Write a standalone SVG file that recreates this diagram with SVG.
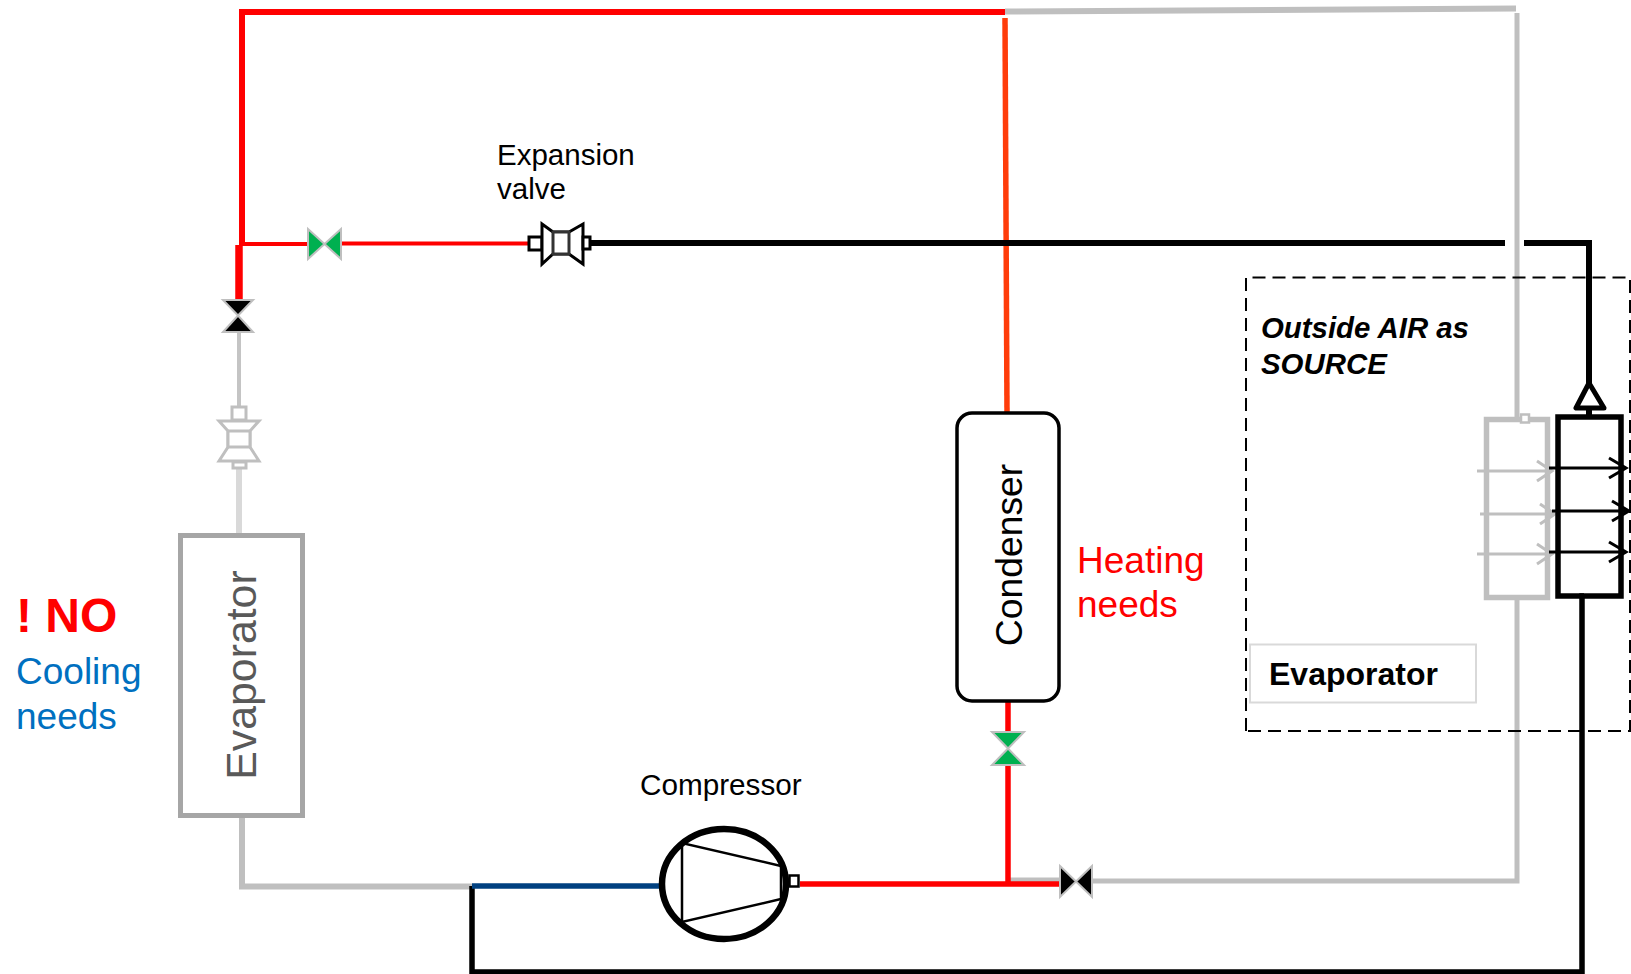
<svg xmlns="http://www.w3.org/2000/svg" width="1631" height="974" viewBox="0 0 1631 974">
<style>
text{font-family:"Liberation Sans",Arial,sans-serif}
.p{fill:none;stroke-linejoin:miter}
.gr{stroke:#bfbfbf}.rd{stroke:#f00}.bk{stroke:#000}
.vg{fill:#00b050;stroke:#bfbfbf;stroke-width:2}
.vk{fill:#000;stroke:#bfbfbf;stroke-width:2}
.ag{fill:none;stroke:#bfbfbf;stroke-width:3}
.ak{fill:none;stroke:#000;stroke-width:3}
</style>
<rect width="1631" height="974" fill="#fff"/>
<g id="connectors">
<path class="p gr" stroke-width="6" d="M1005 11.500L1516 8.500"/>
<path class="p gr" stroke-width="5" d="M1517 13V418M1517 598V881H1092M1062 880H1010"/>
<path class="p gr" stroke-width="6" d="M242 815V886.500H472"/>
<path class="p" stroke="#c4c4c4" stroke-width="4" d="M239 332V406"/>
<path class="p" stroke="#d9d9d9" stroke-width="6" d="M239 468V535"/>
<path class="p rd" stroke-width="6" d="M1005 12H242V245"/>
<path class="p rd" stroke-width="7.500" d="M239 245V304"/>
<path class="p rd" stroke-width="4" d="M241 244H308M341 243.500H528"/>
<path class="p" stroke="#ff3c0a" stroke-width="5.500" d="M1005 18L1007 412"/>
<path class="p rd" stroke-width="5.500" d="M1008 701V732M1008 765V884M800 884H1062"/>
<path class="p bk" stroke-width="6" d="M590 243H1505M1524 243H1589V384M1589 408V417"/>
<path class="p bk" stroke-width="5.500" d="M1584 596H1582V972H472V886"/>
<path class="p" stroke="#004080" stroke-width="5.500" d="M472 886H661"/>
</g>
<g id="valve-green-h"><path class="vg" d="M308 229L324.500 244L308 259ZM341 229L324.500 244L341 259Z"/></g>
<g id="valve-black-v"><path class="vk" d="M223 300H253L238 315.500ZM223 332H253L238 315.500Z"/></g>
<g id="valve-green-v"><path class="vg" d="M992 732H1024L1008 748.500ZM992 765H1024L1008 748.500Z"/></g>
<g id="valve-black-h"><path class="vk" d="M1060 866L1076 881.500L1060 897ZM1092 866L1076 881.500L1092 897Z"/></g>
<g id="expansion-valve-black" fill="#fff" stroke="#000" stroke-width="3">
<rect x="529" y="237" width="13" height="13"/>
<path d="M542 224L553 232H569L583 224V264L569 254H553L542 264Z"/>
<rect x="553" y="232" width="16" height="22" stroke="#333"/>
<rect x="583" y="237" width="7" height="12"/>
</g>
<g id="expansion-valve-gray" fill="#fff" stroke="#bfbfbf" stroke-width="3">
<rect x="232" y="407" width="14" height="13"/>
<path d="M219 421H259L250 431V447L259 461H219L228 447V431Z"/>
<rect x="228" y="431" width="22" height="16"/>
<rect x="233" y="462" width="13" height="6"/>
</g>
<g id="evaporator-left">
<rect x="180.500" y="535.500" width="122" height="280" fill="#fff" stroke="#a6a6a6" stroke-width="5"/>
<text transform="translate(256 675) rotate(-90)" text-anchor="middle" font-size="42.800" fill="#595959">Evaporator</text>
</g>
<g id="condenser">
<rect x="957" y="413" width="102" height="288" rx="15" fill="#fff" stroke="#000" stroke-width="3.500"/>
<text transform="translate(1022 555) rotate(-90)" text-anchor="middle" font-size="37.300" fill="#000">Condenser</text>
</g>
<g id="compressor" fill="none" stroke="#000">
<ellipse cx="724" cy="884" rx="62" ry="55" fill="#fff" stroke-width="6.500"/>
<path stroke-width="2.500" d="M682 843V922L781 899V866Z"/>
<rect x="789.500" y="875.500" width="9" height="11" fill="#fff" stroke-width="2.500"/>
</g>
<g id="source-box">
<path fill="none" stroke="#000" stroke-width="2" stroke-dasharray="13 7" d="M1246 731V277.500H1630V731H1246"/>
<text x="1261" y="338" font-size="29.400" font-weight="bold" font-style="italic" fill="#000">Outside AIR as</text>
<text x="1261" y="374" font-size="29.400" font-weight="bold" font-style="italic" fill="#000">SOURCE</text>
</g>
<g id="evaporator-label">
<rect x="1250" y="644.500" width="226" height="58" fill="#fff" stroke="#d9d9d9" stroke-width="2"/>
<text x="1269" y="685" font-size="32" font-weight="bold" fill="#000">Evaporator</text>
</g>
<g id="outdoor-evaporator-gray">
<rect x="1486.500" y="419.500" width="61" height="178" fill="#fff" stroke="#bfbfbf" stroke-width="5.500"/>
<rect x="1521" y="414.500" width="8" height="8" fill="#fff" stroke="#bfbfbf" stroke-width="2.500"/>
<path class="ag" d="M1477 471H1552M1537 461L1552 471L1537 481M1480 514H1555M1540 504L1555 514L1540 524M1477 554H1552M1537 544L1552 554L1537 564"/>
</g>
<g id="outdoor-evaporator-black">
<rect x="1558" y="417" width="63" height="179" fill="none" stroke="#000" stroke-width="5.500"/>
<path fill="#fff" stroke="#000" stroke-width="5" stroke-linejoin="round" d="M1589 383L1576 408H1604Z"/>
<path class="ak" d="M1549 468H1626M1609 458L1626 468L1609 478M1552 511H1629M1612 501L1629 511L1612 521M1549 552H1626M1609 542L1626 552L1609 562"/>
</g>
<g id="labels">
<text x="497" y="164.500" font-size="29.500" fill="#000">Expansion</text>
<text x="497" y="199" font-size="29.500" fill="#000">valve</text>
<text x="640" y="795" font-size="29.700" fill="#000">Compressor</text>
<text x="16" y="632" font-size="48" font-weight="bold" fill="#f00">! NO</text>
<text x="16" y="684" font-size="37" fill="#0070c0">Cooling</text>
<text x="16" y="729" font-size="37" fill="#0070c0">needs</text>
<text x="1077" y="573" font-size="37" fill="#f00">Heating</text>
<text x="1077" y="617" font-size="37" fill="#f00">needs</text>
</g>
</svg>
